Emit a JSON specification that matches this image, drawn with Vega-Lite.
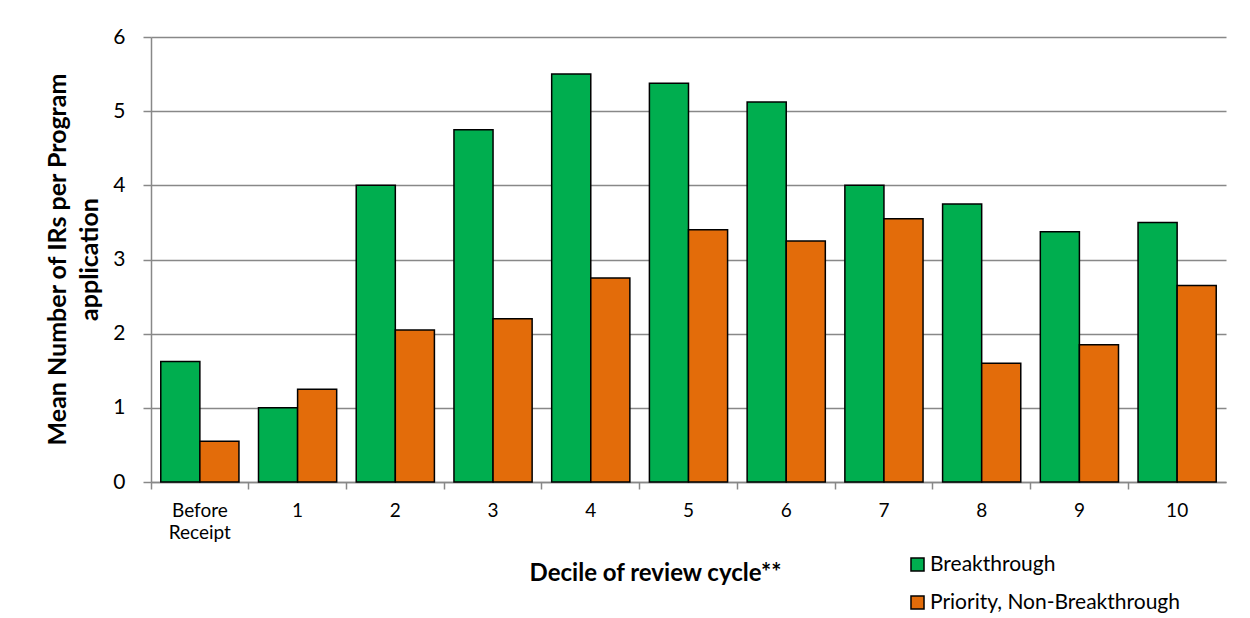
{
  "$schema": "https://vega.github.io/schema/vega-lite/v6.json",
  "autosize": {"type": "none"},
  "width": 1075,
  "height": 445,
  "padding": {"left": 151, "top": 37, "right": 24, "bottom": 136},
  "background": "white",
  "config": {
    "font": "Lato",
    "view": {"stroke": null}
  },
  "data": {
    "values": [
      {"decile": "Before Receipt", "series": "Breakthrough", "value": 1.625},
      {"decile": "Before Receipt", "series": "Priority, Non-Breakthrough", "value": 0.55},
      {"decile": "1", "series": "Breakthrough", "value": 1.0},
      {"decile": "1", "series": "Priority, Non-Breakthrough", "value": 1.25},
      {"decile": "2", "series": "Breakthrough", "value": 4.0},
      {"decile": "2", "series": "Priority, Non-Breakthrough", "value": 2.05},
      {"decile": "3", "series": "Breakthrough", "value": 4.75},
      {"decile": "3", "series": "Priority, Non-Breakthrough", "value": 2.2},
      {"decile": "4", "series": "Breakthrough", "value": 5.5},
      {"decile": "4", "series": "Priority, Non-Breakthrough", "value": 2.75},
      {"decile": "5", "series": "Breakthrough", "value": 5.375},
      {"decile": "5", "series": "Priority, Non-Breakthrough", "value": 3.4},
      {"decile": "6", "series": "Breakthrough", "value": 5.125},
      {"decile": "6", "series": "Priority, Non-Breakthrough", "value": 3.25},
      {"decile": "7", "series": "Breakthrough", "value": 4.0},
      {"decile": "7", "series": "Priority, Non-Breakthrough", "value": 3.55},
      {"decile": "8", "series": "Breakthrough", "value": 3.75},
      {"decile": "8", "series": "Priority, Non-Breakthrough", "value": 1.6},
      {"decile": "9", "series": "Breakthrough", "value": 3.375},
      {"decile": "9", "series": "Priority, Non-Breakthrough", "value": 1.85},
      {"decile": "10", "series": "Breakthrough", "value": 3.5},
      {"decile": "10", "series": "Priority, Non-Breakthrough", "value": 2.65}
    ]
  },
  "mark": {"type": "bar", "stroke": "black", "strokeWidth": 1.5},
  "encoding": {
    "x": {
      "field": "decile",
      "type": "nominal",
      "sort": null,
      "scale": {"paddingInner": 0, "paddingOuter": 0},
      "axis": {
        "title": "Decile of review cycle**",
        "titleFontSize": 24,
        "titleFontWeight": "bold",
        "titleColor": "black",
        "titleX": 504,
        "titleY": 91,
        "titleBaseline": "middle",
        "labelAngle": 0,
        "labelFontSize": 19,
        "labelColor": "black",
        "labelPadding": 12,
        "labelExpr": "datum.value == 'Before Receipt' ? ['Before', 'Receipt'] : datum.value",
        "labelLineHeight": 22,
        "bandPosition": 0,
        "tickSize": 7,
        "tickColor": "#888888",
        "tickWidth": 1.5,
        "domainColor": "#888888",
        "domainWidth": 1.5
      }
    },
    "xOffset": {
      "field": "series",
      "type": "nominal",
      "scale": {"paddingInner": 0, "paddingOuter": 0.25}
    },
    "y": {
      "field": "value",
      "type": "quantitative",
      "scale": {"domain": [0, 6], "nice": false},
      "axis": {
        "title": ["Mean Number of IRs per Program", "application"],
        "titleFontSize": 25,
        "titleFontWeight": "bold",
        "titleColor": "black",
        "titleLineHeight": 32,
        "titleAngle": -90,
        "titleAlign": "center",
        "titleBaseline": "top",
        "titleX": -106,
        "titleY": 222,
        "values": [0, 1, 2, 3, 4, 5, 6],
        "labelOverlap": false,
        "labelFontSize": 21,
        "labelColor": "black",
        "labelPadding": 18,
        "tickSize": 8,
        "tickColor": "#888888",
        "tickWidth": 1.5,
        "domainColor": "#888888",
        "domainWidth": 1.5,
        "grid": true,
        "gridColor": "#888888",
        "gridWidth": 1.5
      }
    },
    "color": {
      "field": "series",
      "type": "nominal",
      "scale": {
        "domain": ["Breakthrough", "Priority, Non-Breakthrough"],
        "range": ["#00AE4F", "#E36C0A"]
      },
      "legend": {
        "title": null,
        "orient": "none",
        "legendX": 756,
        "legendY": 517,
        "symbolType": "square",
        "symbolSize": 170,
        "symbolStrokeColor": "black",
        "symbolStrokeWidth": 1.5,
        "labelFontSize": 21,
        "labelColor": "black",
        "labelOffset": 2,
        "labelLimit": 400,
        "rowPadding": 16
      }
    }
  }
}
